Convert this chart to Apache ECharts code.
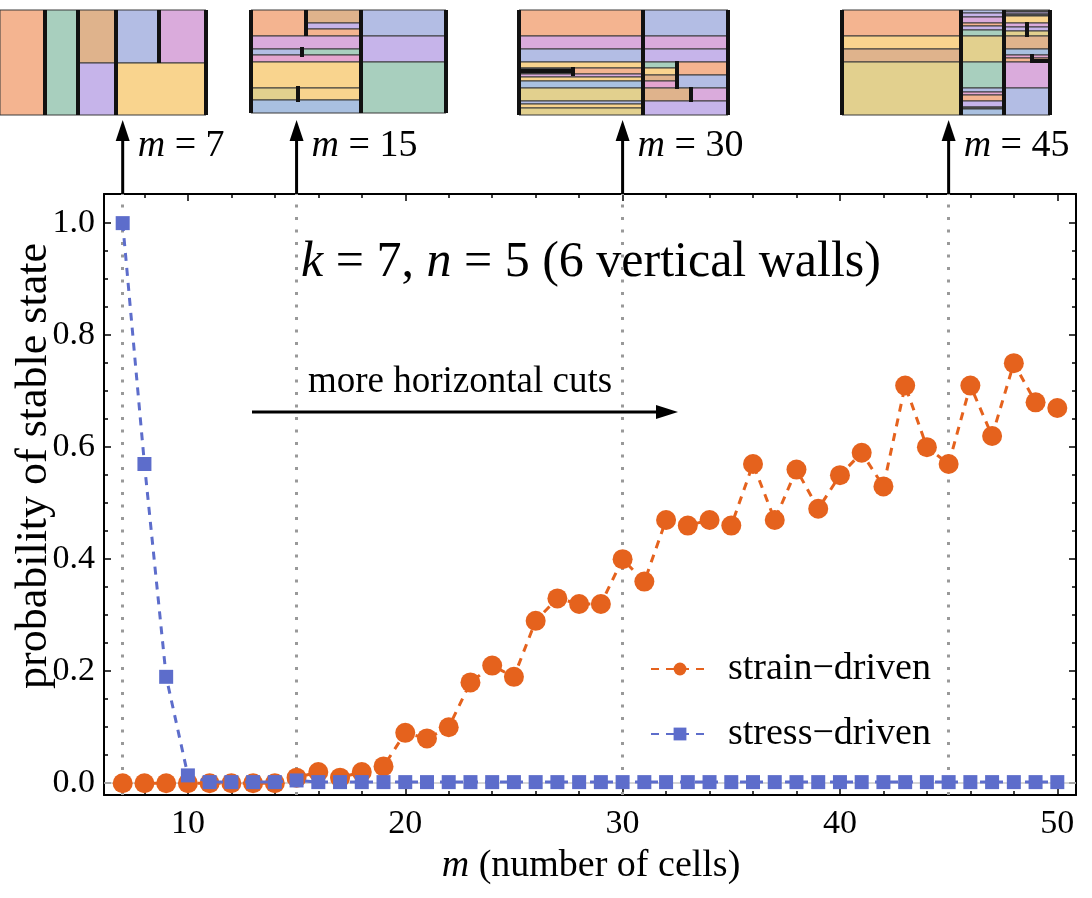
<!DOCTYPE html>
<html>
<head>
<meta charset="utf-8">
<script src="https://cdn.jsdelivr.net/npm/echarts@6/dist/echarts.min.js"></script>
<style>
	html, body { margin: 0; padding: 0; background: #fff; }
	#main { width: 1092px; height: 898px; }
</style>
</head>
<body>
<div id="main"></div>
<script>
// m = number of cells, 7 .. 50
var cells = [7, 8, 9, 10, 11, 12, 13, 14, 15, 16, 17, 18, 19, 20, 21, 22, 23, 24, 25, 26, 27, 28,
	29, 30, 31, 32, 33, 34, 35, 36, 37, 38, 39, 40, 41, 42, 43, 44, 45, 46, 47, 48, 49, 50];

var strainDriven = [0, 0, 0, 0, 0, 0, 0, 0, 0.01, 0.02, 0.01, 0.02, 0.03, 0.09, 0.08, 0.10, 0.18, 0.21,
	0.19, 0.29, 0.33, 0.32, 0.32, 0.40, 0.36, 0.47, 0.46, 0.47, 0.46, 0.57, 0.47, 0.56, 0.49, 0.55,
	0.59, 0.53, 0.71, 0.60, 0.57, 0.71, 0.62, 0.75, 0.68, 0.67];

var stressDriven = [1.0, 0.57, 0.19, 0.014, 0.002, 0.002, 0.002, 0.002, 0.005, 0.002, 0.002, 0.002,
	0.002, 0.002, 0.002, 0.002, 0.002, 0.002, 0.002, 0.002, 0.002, 0.002, 0.002, 0.002, 0.002, 0.002,
	0.002, 0.002, 0.002, 0.002, 0.002, 0.002, 0.002, 0.002, 0.002, 0.002, 0.002, 0.002, 0.002, 0.002,
	0.002, 0.002, 0.002, 0.002];

var seriesNames = ['strain\u2212driven', 'stress\u2212driven'];
var markedCells = [7, 15, 30, 45];

var xTickLabels = [10, 20, 30, 40, 50];
var xMinorTicks = [8, 10, 12, 14, 16, 18, 20, 22, 24, 26, 28, 30, 32, 34, 36, 38, 40, 42, 44, 46, 48, 50];
var yTickLabels = [0, 0.2, 0.4, 0.6, 0.8, 1.0];
var yMinorTicks = [0, 0.05, 0.1, 0.15, 0.2, 0.25, 0.3, 0.35, 0.4, 0.45, 0.5, 0.55, 0.6, 0.65,
	0.7, 0.75, 0.8, 0.85, 0.9, 0.95, 1.0];

// inset pictures above the plot (cell layouts), pixel geometry
var palette = {
	or: '#F4B490', gr: '#A8CFBE', tn: '#DFB38C', lv: '#C6B4EA', bl: '#B3BDE4', pk: '#DAABDC',
	ye: '#F9D48E', kh: '#E2D08E', sb: '#A9C0E0', mg: '#E5A5CF', dk: '#555555'
};

var insets = [
	{	// m = 7
		cells: [[0, 10, 45, 115, 'or'], [45, 10, 78, 115, 'gr'], [78, 10, 116, 63, 'tn'], [78, 63, 116, 115, 'lv'],
			[116, 10, 159, 63, 'bl'], [159, 10, 206, 63, 'pk'], [116, 63, 206, 115, 'ye']],
		walls: [[45, 10, 45, 115], [78, 10, 78, 115], [116, 10, 116, 115], [159, 10, 159, 63], [206, 10, 206, 115]]
	},
	{	// m = 15
		cells: [[251, 10, 306, 36, 'or'], [306, 10, 361, 23, 'tn'], [306, 23, 361, 29, 'lv'], [306, 29, 361, 36, 'or'],
			[251, 36, 361, 49, 'pk'], [251, 49, 302, 55, 'bl'], [302, 49, 361, 55, 'gr'], [251, 55, 361, 62, 'mg'],
			[251, 62, 361, 88, 'ye'], [251, 88, 298, 100, 'kh'], [298, 88, 361, 100, 'ye'], [251, 100, 361, 113, 'sb'],
			[361, 10, 446, 36, 'bl'], [361, 36, 446, 62, 'lv'], [361, 62, 446, 113, 'gr']],
		walls: [[251, 10, 251, 113], [361, 10, 361, 113], [446, 10, 446, 113], [306, 10, 306, 36],
			[302, 47, 302, 57], [298, 86, 298, 102]]
	},
	{	// m = 30
		cells: [[519, 10, 643, 36, 'or'], [519, 36, 643, 49, 'pk'], [519, 49, 643, 62, 'bl'], [519, 62, 643, 68, 'ye'],
			[519, 68, 573, 70, 'dk'], [519, 70, 573, 72, 'or'], [519, 72, 573, 74, 'dk'], [573, 68, 643, 74, 'or'],
			[519, 74, 643, 77, 'pk'], [519, 77, 643, 81, 'ye'], [519, 81, 643, 88, 'sb'], [519, 88, 643, 101, 'kh'],
			[519, 101, 643, 104, 'bl'], [519, 104, 643, 108, 'ye'], [519, 108, 643, 115, 'kh'],
			[643, 10, 728, 36, 'bl'], [643, 36, 728, 49, 'pk'], [643, 49, 728, 62, 'lv'], [643, 62, 677, 68, 'gr'],
			[677, 62, 728, 75, 'or'], [643, 68, 677, 75, 'ye'], [643, 75, 677, 81, 'tn'], [677, 75, 728, 88, 'bl'],
			[643, 81, 677, 88, 'mg'], [643, 88, 691, 101, 'tn'], [691, 88, 728, 101, 'pk'], [643, 101, 728, 115, 'lv']],
		walls: [[519, 10, 519, 115], [643, 10, 643, 115], [728, 10, 728, 115], [573, 67, 573, 76],
			[677, 61, 677, 89], [691, 87, 691, 102], [519, 71, 573, 71]]
	},
	{	// m = 45
		cells: [[842, 10, 961, 36, 'or'], [842, 36, 961, 49, 'ye'], [842, 49, 961, 62, 'tn'], [842, 62, 961, 115, 'kh'],
			[961, 10, 1004, 13, 'bl'], [961, 13, 1004, 17, 'lv'], [961, 17, 1004, 23, 'pk'], [961, 23, 1004, 26, 'or'],
			[961, 26, 1004, 30, 'lv'], [961, 30, 1004, 36, 'gr'], [961, 36, 1004, 62, 'kh'], [961, 62, 1004, 88, 'gr'],
			[961, 88, 1004, 92, 'bl'], [961, 92, 1004, 95, 'mg'], [961, 95, 1004, 101, 'or'], [961, 101, 1004, 107, 'lv'],
			[961, 107, 1004, 109, 'dk'], [961, 109, 1004, 115, 'sb'],
			[1004, 10, 1050, 12, 'dk'], [1004, 12, 1050, 14, 'lv'], [1004, 14, 1050, 16, 'dk'],
			[1004, 16, 1050, 23, 'ye'], [1004, 23, 1050, 27, 'pk'], [1004, 27, 1050, 31, 'lv'],
			[1004, 31, 1050, 36, 'kh'], [1004, 36, 1050, 49, 'tn'], [1004, 49, 1050, 55, 'sb'], [1004, 55, 1050, 58, 'mg'],
			[1004, 58, 1050, 62, 'or'], [1004, 62, 1050, 88, 'pk'], [1004, 88, 1050, 115, 'bl']],
		walls: [[842, 10, 842, 115], [961, 10, 961, 115], [1004, 10, 1004, 115], [1050, 10, 1050, 115],
			[1027, 22, 1027, 37], [1032, 54, 1032, 63], [1032, 61, 1050, 61]]
	}
];

var SERIF = '"Liberation Serif", "DejaVu Serif", serif';
var ORANGE = '#E5621D';
var BLUE = '#5D6DCB';

function pairs(xs, ys) {
	var out = [];
	for (var i = 0; i < xs.length; i++) {
		out.push([xs[i], ys[i]]);
	}
	return out;
}

// one value axis; major/minor ticks are separate axes since labels are custom values
function xAxisDef(pos, ticks, len, showLine, showLabel) {
	return {
		type: 'value', position: pos, min: 6.14, max: 50.86,
		axisLine: { show: showLine, onZero: false, lineStyle: { color: '#000', width: 2 } },
		axisTick: { show: true, inside: true, length: len, customValues: ticks, lineStyle: { color: '#000', width: 1.5 } },
		axisLabel: { show: showLabel, customValues: xTickLabels, color: '#000', fontFamily: SERIF, fontSize: 34, margin: 12 },
		splitLine: { show: false }
	};
}

function yAxisDef(pos, ticks, len, showLine, showLabel) {
	return {
		type: 'value', position: pos, min: -0.021, max: 1.052,
		axisLine: { show: showLine, onZero: false, lineStyle: { color: '#000', width: 2 } },
		axisTick: { show: true, inside: true, length: len, customValues: ticks, lineStyle: { color: '#000', width: 1.5 } },
		axisLabel: {
			show: showLabel, customValues: yTickLabels, color: '#000', fontFamily: SERIF, fontSize: 34, margin: 9,
			formatter: function (v) { return v.toFixed(1); }
		},
		splitLine: { show: false }
	};
}

var myChart = echarts.init(document.getElementById('main'));

var markLineData = markedCells.map(function (m) {
	return { xAxis: m };
});
markLineData.push({ yAxis: 0, lineStyle: { color: '#c8c8c8', width: 1.5, type: 'solid' } });

var chartOption = {
	animation: false,
	grid: { left: 104, right: 16, top: 194, bottom: 103, containLabel: false },
	xAxis: [
		xAxisDef('bottom', xTickLabels, 7, true, true),
		xAxisDef('bottom', xMinorTicks, 4, false, false),
		xAxisDef('top', xTickLabels, 7, true, false),
		xAxisDef('top', xMinorTicks, 4, false, false)
	],
	yAxis: [
		yAxisDef('left', yTickLabels, 7, true, true),
		yAxisDef('left', yMinorTicks, 4, false, false),
		yAxisDef('right', yTickLabels, 7, true, false),
		yAxisDef('right', yMinorTicks, 4, false, false)
	],
	legend: {
		orient: 'vertical', left: 645, top: 645, itemGap: 27,
		itemWidth: 58, itemHeight: 16,
		textStyle: { fontFamily: SERIF, fontSize: 38, color: '#000', padding: [0, 0, 0, 14] },
		data: seriesNames
	},
	series: [
		{
			name: seriesNames[0], type: 'line', data: pairs(cells, strainDriven),
			symbol: 'circle', symbolSize: 20, color: ORANGE,
			lineStyle: { color: ORANGE, width: 3, type: [8, 7] },
			z: 3,
			markLine: {
				silent: true, symbol: ['none', 'none'], label: { show: false },
				lineStyle: { color: '#999', width: 3, type: [3, 9.5] },
				data: markLineData, z: 1
			}
		},
		{
			name: seriesNames[1], type: 'line', data: pairs(cells, stressDriven),
			symbol: 'rect', symbolSize: 14, color: BLUE,
			lineStyle: { color: BLUE, width: 3, type: [8, 7] },
			z: 4
		}
	]
};

myChart.setOption(chartOption);

// decorations: insets, arrows to the marked m, annotations
function buildGraphics() {
	var els = [];
	insets.forEach(function (inset) {
		inset.cells.forEach(function (c) {
			els.push({
				type: 'rect', silent: true,
				shape: { x: c[0], y: c[1], width: c[2] - c[0], height: c[3] - c[1] },
				style: { fill: palette[c[4]], stroke: '#3a3a3a', lineWidth: 1 }
			});
		});
		inset.walls.forEach(function (w) {
			els.push({
				type: 'line', silent: true,
				shape: { x1: w[0], y1: w[1], x2: w[2], y2: w[3] },
				style: { stroke: '#111', lineWidth: 4 }
			});
		});
	});

	var top = myChart.convertToPixel({ gridIndex: 0 }, [7, 1.052])[1];
	markedCells.forEach(function (m) {
		var px = myChart.convertToPixel({ xAxisIndex: 0 }, m);
		els.push({
			type: 'line', silent: true,
			shape: { x1: px, y1: top, x2: px, y2: 138 },
			style: { stroke: '#000', lineWidth: 3 }
		});
		els.push({
			type: 'polygon', silent: true,
			shape: { points: [[px, 120], [px - 7, 141], [px + 7, 141]] },
			style: { fill: '#000' }
		});
		els.push({
			type: 'text', silent: true, x: px + 15, y: 146,
			style: {
				text: '{i|m} = ' + m, fill: '#000', font: '38px ' + SERIF, verticalAlign: 'middle',
				rich: { i: { fontStyle: 'italic', fontFamily: SERIF, fontSize: 38 } }
			}
		});
	});

	els.push({
		type: 'text', silent: true, x: 591, y: 263,
		style: {
			text: '{i|k} = 7, {i|n} = 5 (6 vertical walls)', fill: '#000', font: '50px ' + SERIF,
			align: 'center', verticalAlign: 'middle',
			rich: { i: { fontStyle: 'italic', fontFamily: SERIF, fontSize: 50 } }
		}
	});
	els.push({
		type: 'text', silent: true, x: 460, y: 382,
		style: { text: 'more horizontal cuts', fill: '#000', font: '37px ' + SERIF, align: 'center', verticalAlign: 'middle' }
	});
	els.push({
		type: 'line', silent: true,
		shape: { x1: 252, y1: 412, x2: 662, y2: 412 },
		style: { stroke: '#000', lineWidth: 3 }
	});
	els.push({
		type: 'polygon', silent: true,
		shape: { points: [[678, 412], [656, 405], [656, 419]] },
		style: { fill: '#000' }
	});

	// axis titles
	els.push({
		type: 'text', silent: true, x: 591, y: 866,
		style: {
			text: '{i|m} (number of cells)', fill: '#000', font: '38px ' + SERIF,
			align: 'center', verticalAlign: 'middle',
			rich: { i: { fontStyle: 'italic', fontFamily: SERIF, fontSize: 38 } }
		}
	});
	els.push({
		type: 'text', silent: true, x: 34, y: 466, rotation: Math.PI / 2,
		style: { text: 'probability of stable state', fill: '#000', font: '44px ' + SERIF, align: 'center', verticalAlign: 'middle' }
	});
	return els;
}

myChart.setOption({ graphic: buildGraphics() });
</script>
</body>
</html>
